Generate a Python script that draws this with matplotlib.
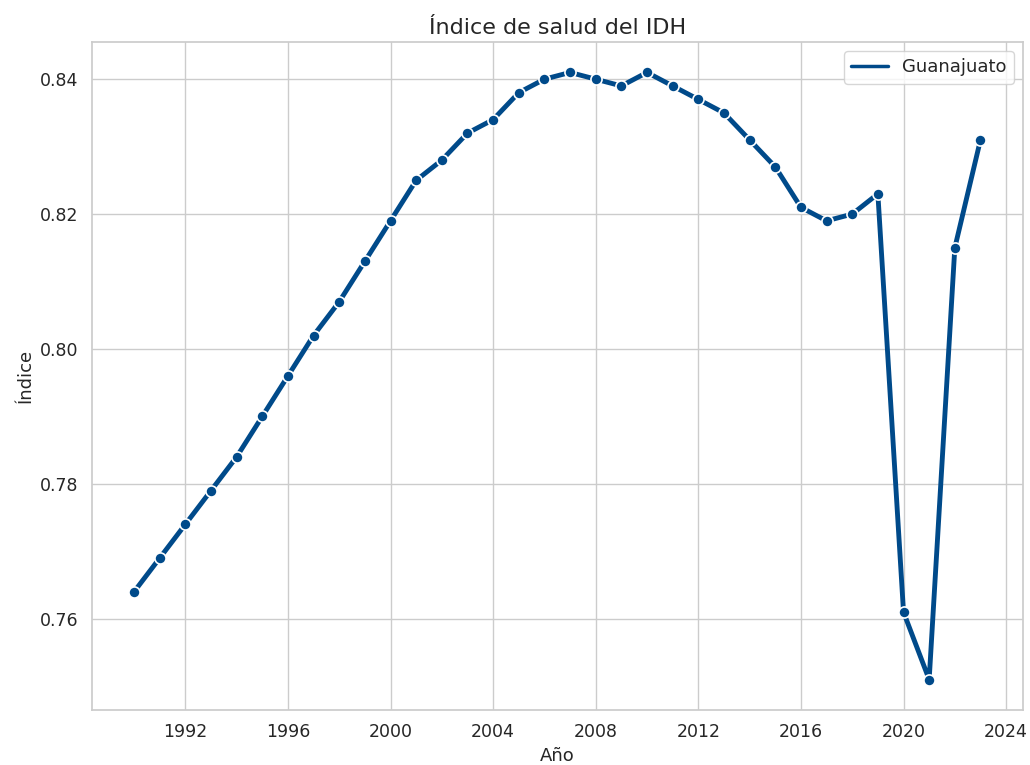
import matplotlib
matplotlib.use("Agg")
import matplotlib.pyplot as plt
from matplotlib.lines import Line2D
import seaborn as sns

anios = list(range(1990, 2024))
indice_salud = [0.764, 0.769, 0.774, 0.779, 0.784, 0.790, 0.796, 0.802, 0.807, 0.813,
                0.819, 0.825, 0.828, 0.832, 0.834, 0.838, 0.840, 0.841, 0.840, 0.839,
                0.841, 0.839, 0.837, 0.835, 0.831, 0.827, 0.821, 0.819, 0.820, 0.823,
                0.761, 0.751, 0.815, 0.831]
estado = "Guanajuato"
color = "#004a8a"

sns.set_theme(style="whitegrid")
fig, ax = plt.subplots(figsize=(10.3, 7.65), dpi=100)
ax.plot(anios, indice_salud, color=color, linewidth=3.5, marker="o",
        markersize=8, markeredgecolor="white", markeredgewidth=1.2)
ax.set_title("Índice de salud del IDH", fontsize=16)
ax.set_xlabel("Año", fontsize=13)
ax.set_ylabel("Índice", fontsize=13)
ax.tick_params(labelsize=12.5)
ax.xaxis.set_major_locator(matplotlib.ticker.MaxNLocator(integer=True))
ax.yaxis.set_major_formatter(matplotlib.ticker.FormatStrFormatter("%.2f"))
# leyenda solo con la línea, como en seaborn
ax.legend([Line2D([0], [0], color=color, linewidth=2.5)], [estado],
          loc="upper right", fontsize=13)
fig.subplots_adjust(left=0.089, right=0.993, top=0.945, bottom=0.072)
fig.savefig("out.png")
